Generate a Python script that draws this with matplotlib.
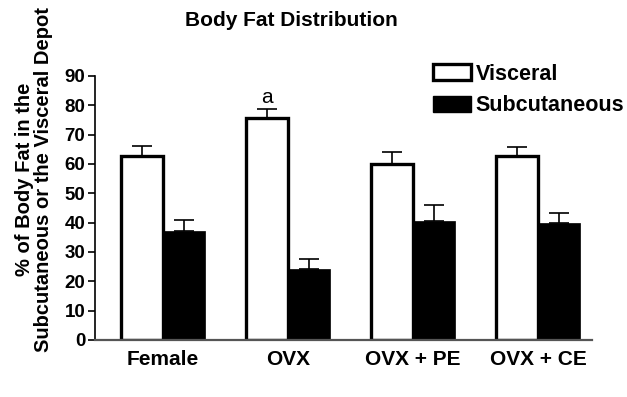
import numpy as np
import matplotlib
matplotlib.use('Agg')
from matplotlib import pyplot as plt
from matplotlib.patches import Patch

groups = ['Female', 'OVX', 'OVX + PE', 'OVX + CE']
visceral = [62.8, 75.6, 60.0, 62.8]
visceral_err = [3.5, 3.2, 4.2, 3.1]
subcutaneous = [37.0, 24.1, 40.6, 39.8]
subcutaneous_err = [3.9, 3.4, 5.5, 3.5]
yticks = [0, 10, 20, 30, 40, 50, 60, 70, 80, 90]

plt.rcParams['font.family'] = ['Liberation Sans', 'DejaVu Sans']

fig = plt.figure(figsize=(6.27, 3.97), dpi=100)
ax = fig.add_axes([0.1515, 0.1436, 0.7925, 0.665])

x = np.arange(len(groups))
w = 0.336

ax.bar(x - w / 2, visceral, w, color='white', edgecolor='black', linewidth=2.4, zorder=2)
ax.bar(x + w / 2, subcutaneous, w, color='black', edgecolor='black', linewidth=0.5, zorder=2)

# upper half of SEM only
ax.errorbar(x - w / 2, visceral, yerr=[np.zeros(4), visceral_err], fmt='none',
            ecolor='black', elinewidth=1.2, capsize=7.5, capthick=1.2, zorder=1)
ax.errorbar(x + w / 2, subcutaneous, yerr=[np.zeros(4), subcutaneous_err], fmt='none',
            ecolor='black', elinewidth=1.2, capsize=7.5, capthick=1.2, zorder=1)

ax.text(x[1] - w / 2, visceral[1] + visceral_err[1] + 0.6, 'a',
        ha='center', va='bottom', fontsize=15)

ax.set_xlim(-0.545, 3.43)
ax.set_ylim(0, 90)
ax.set_yticks(yticks)
ax.set_xticks(x)
ax.set_xticklabels(groups, fontsize=15, fontweight='bold')
ax.tick_params(axis='x', length=0, pad=7)
ax.tick_params(axis='y', labelsize=13.5, width=1.2, length=5, pad=2)
for lab in ax.get_yticklabels():
    lab.set_fontweight('bold')

ax.spines['top'].set_visible(False)
ax.spines['right'].set_visible(False)
ax.spines['left'].set_linewidth(1.2)
ax.spines['bottom'].set_linewidth(1.6)
ax.spines['bottom'].set_color('#555555')

ax.set_ylabel('% of Body Fat in the\nSubcutaneous or the Visceral Depot',
              fontsize=14.5, fontweight='bold', linespacing=1.0)
ax.yaxis.set_label_coords(-0.085, 0.607)
fig.text(0.464, 0.948, 'Body Fat Distribution', ha='center', va='center',
         fontsize=15, fontweight='bold')

handles = [Patch(facecolor='white', edgecolor='black', linewidth=2.4, label='Visceral'),
           Patch(facecolor='black', edgecolor='black', label='Subcutaneous')]
leg = fig.legend(handles=handles, loc='upper left', bbox_to_anchor=(0.69, 0.84),
                 frameon=False, prop={'weight': 'bold', 'size': 15.5},
                 handlelength=1.8, handleheight=0.75, handletextpad=0.2,
                 labelspacing=0.5, borderpad=0, borderaxespad=0)

fig.savefig('out.png', dpi=100)
